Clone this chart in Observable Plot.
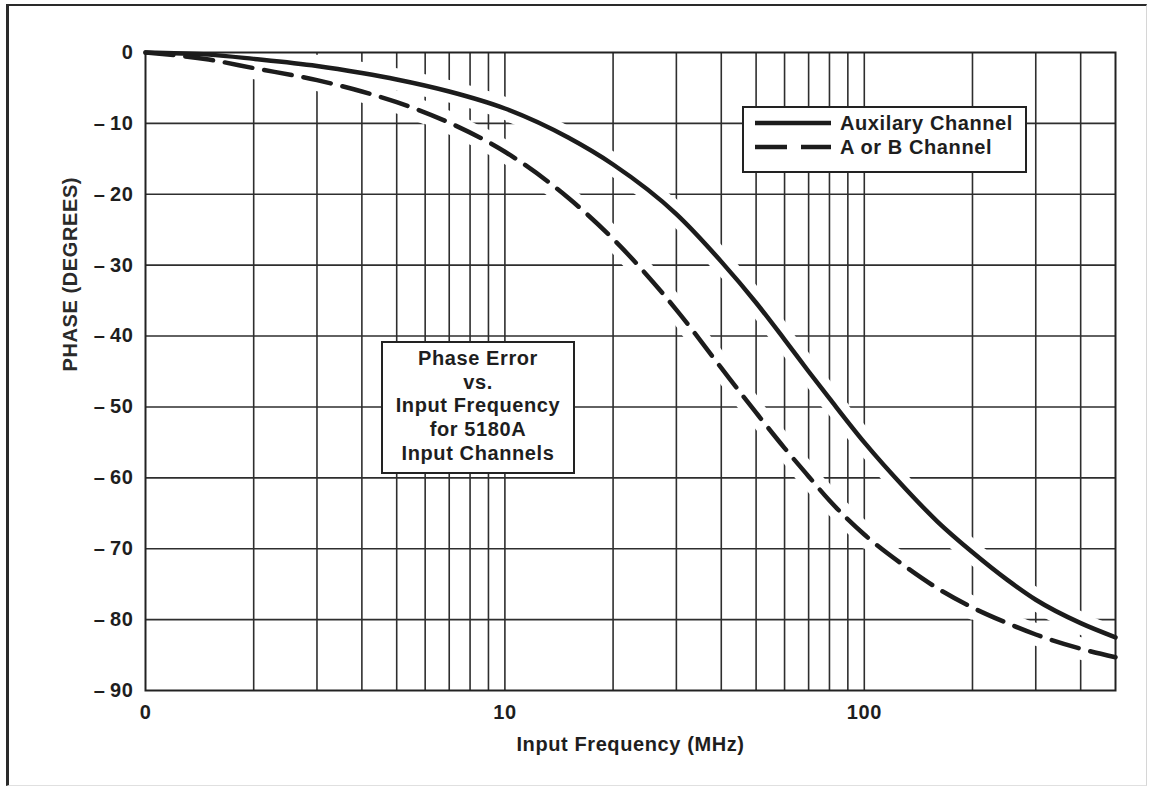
<!DOCTYPE html>
<html>
<head>
<meta charset="utf-8">
<script src="https://cdn.jsdelivr.net/npm/d3@7"></script>
<script src="https://cdn.jsdelivr.net/npm/@observablehq/plot@0.6"></script>
<style>
  body { margin: 0; background: #fff; }
  #wrap { position: relative; width: 1151px; height: 788px; overflow: hidden;
          font-family: "Liberation Sans", Arial, sans-serif; font-weight: bold; color: #1e1e1e; }
  #border { position: absolute; left: 6px; top: 4px; width: 1141px; height: 782px; box-sizing: border-box;
            border-top: 2px solid #2a2a2a; border-left: 3px solid #2a2a2a;
            border-right: 1px solid #d6d6d6; border-bottom: 1px solid #e0e0e0; pointer-events: none; }
  .box { position: absolute; background: #fff; border: 2px solid #222; box-sizing: border-box; }
  #legend { left: 742px; top: 106px; width: 285px; height: 67px; }
  #legend .item { position: absolute; left: 96px; font-size: 20px; letter-spacing: 0.6px; line-height: 24px; white-space: nowrap; }
  #legend svg { position: absolute; left: 0; top: 0; }
  #note { left: 381px; top: 341px; width: 194px; height: 133px; padding-top: 4px;
          text-align: center; font-size: 20px; letter-spacing: 0.6px; line-height: 23.7px; }
</style>
</head>
<body>
<div id="wrap">
  <div id="chart"></div>
  <div id="legend" class="box"></div>
  <div id="note" class="box"></div>
  <div id="border"></div>
</div>
<script>
// Frequency points (MHz) at which the phase of each channel is listed
const freq = [1, 1.5, 2, 3, 4, 5, 7, 10, 15, 20, 30, 40, 50, 60, 70, 80, 100, 130, 160, 200, 250, 300, 400, 500];

// Phase (degrees) of the auxiliary channel
const auxPhase = [0, -0.3, -0.9, -1.9, -2.9, -3.8, -5.5, -7.9, -12.0, -15.8, -22.8, -29.5, -35.3, -40.5, -45.0,
                  -48.8, -55.0, -61.5, -66.2, -70.5, -74.4, -77.2, -80.5, -82.5];

// Phase (degrees) of the A or B channel
const abPhase = [0, -1.0, -2.2, -3.9, -5.5, -7.0, -9.9, -14.0, -20.5, -26.3, -36.3, -44.5, -50.8, -55.8, -59.8,
                 -63.2, -68.0, -72.5, -75.6, -78.3, -80.5, -82.1, -84.1, -85.3];

const seriesNames = ["Auxilary Channel", "A or B Channel"];

// Log-scale grid lines and labelled decades
const gridFreqs = [2, 3, 4, 5, 6, 7, 8, 9, 10, 20, 30, 40, 50, 60, 70, 80, 90, 100, 200, 300, 400];
const xTicks = [1, 10, 100];
const xTickLabels = ["0", "10", "100"];
const yTicks = [0, -10, -20, -30, -40, -50, -60, -70, -80, -90];
const gridPhases = [-10, -20, -30, -40, -50, -60, -70, -80];

const noteLines = ["Phase Error", "vs.", "Input Frequency", "for 5180A", "Input Channels"];

const aux = freq.map((f, i) => ({f, p: auxPhase[i]}));
const ab = freq.map((f, i) => ({f, p: abPhase[i]}));

const ink = "#1c1c1c";
const gridInk = "#2e2e2e";
const dash = "28,12";
const haloWidth = 22;

const chart = Plot.plot({
  width: 1151,
  height: 788,
  marginLeft: 145,
  marginRight: 36,
  marginTop: 52,
  marginBottom: 98,
  style: {fontFamily: "'Liberation Sans', Arial, sans-serif", fontSize: "20px", fontWeight: "bold",
          letterSpacing: "0.6px", color: "#1e1e1e", background: "transparent"},
  x: {type: "log", domain: [1, 500]},
  y: {domain: [-90, 0]},
  marks: [
    Plot.ruleX(gridFreqs, {stroke: gridInk, strokeWidth: 1.6}),
    Plot.ruleY(gridPhases, {stroke: gridInk, strokeWidth: 1.6}),
    // halos (used as a mask below) break the grid around each curve
    Plot.line(aux, {x: "f", y: "p", stroke: "black", strokeWidth: haloWidth, strokeOpacity: 0, curve: "monotone-x"}),
    Plot.line(ab, {x: "f", y: "p", stroke: "black", strokeWidth: haloWidth, strokeOpacity: 0, curve: "monotone-x"}),
    Plot.frame({stroke: "#222", strokeWidth: 2}),
    Plot.line(aux, {x: "f", y: "p", stroke: ink, strokeWidth: 4.5, curve: "monotone-x"}),
    Plot.line(ab, {x: "f", y: "p", stroke: ink, strokeWidth: 4.5, strokeDasharray: dash, curve: "monotone-x"}),
    Plot.axisX({ticks: xTicks, tickFormat: d => xTickLabels[xTicks.indexOf(d)], tickSize: 0,
                tickPadding: 14, label: null, fill: "#1e1e1e"}),
    Plot.axisY({ticks: yTicks, tickFormat: d => d === 0 ? "0" : "\u2013\u2009" + Math.abs(d), tickSize: 0,
                tickPadding: 12, label: null, fill: "#1e1e1e"}),
    Plot.text(["Input Frequency (MHz)"], {frameAnchor: "bottom", dy: 54, lineAnchor: "middle", fill: "#1e1e1e"}),
    Plot.text(["PHASE (DEGREES)"], {frameAnchor: "left", dx: -75, rotate: -90, fill: "#2a2a2a"})
  ]
});

// Build a mask from the halo paths so the grid stops short of each curve
const ns = "http://www.w3.org/2000/svg";
const mask = document.createElementNS(ns, "mask");
mask.setAttribute("id", "grid-gaps");
mask.setAttribute("maskUnits", "userSpaceOnUse");
mask.setAttribute("x", 0); mask.setAttribute("y", 0);
mask.setAttribute("width", 1151); mask.setAttribute("height", 788);
const bg = document.createElementNS(ns, "rect");
bg.setAttribute("width", 1151); bg.setAttribute("height", 788); bg.setAttribute("fill", "white");
mask.appendChild(bg);
const lineGroups = chart.querySelectorAll('g[aria-label="line"]');
[lineGroups[0], lineGroups[1]].forEach(g => {
  const clone = g.cloneNode(true);
  clone.setAttribute("stroke", "black");
  clone.setAttribute("stroke-opacity", 1);
  clone.setAttribute("fill", "none");
  clone.setAttribute("stroke-width", haloWidth);
  clone.querySelectorAll("path").forEach(p => { p.setAttribute("stroke", "black"); p.removeAttribute("stroke-opacity"); });
  mask.appendChild(clone);
});
const defs = document.createElementNS(ns, "defs");
defs.appendChild(mask);
chart.insertBefore(defs, chart.firstChild);
chart.querySelectorAll('g[aria-label="rule"]').forEach(g => g.setAttribute("mask", "url(#grid-gaps)"));
document.getElementById("chart").appendChild(chart);

// Legend: line swatches with channel names
const legend = d3.select("#legend");
const sw = legend.append("svg").attr("width", 95).attr("height", 63);
const rowsY = [15, 39];
sw.append("line").attr("x1", 11).attr("x2", 87).attr("y1", rowsY[0]).attr("y2", rowsY[0])
  .attr("stroke", ink).attr("stroke-width", 4.5);
sw.append("line").attr("x1", 11).attr("x2", 87).attr("y1", rowsY[1]).attr("y2", rowsY[1])
  .attr("stroke", ink).attr("stroke-width", 4.5).attr("stroke-dasharray", "32,14");
seriesNames.forEach((name, i) => {
  legend.append("div").attr("class", "item").style("top", (rowsY[i] - 12) + "px").text(name);
});

// Caption box inside the plot
const note = d3.select("#note");
noteLines.forEach(t => note.append("div").text(t));
</script>
</body>
</html>
